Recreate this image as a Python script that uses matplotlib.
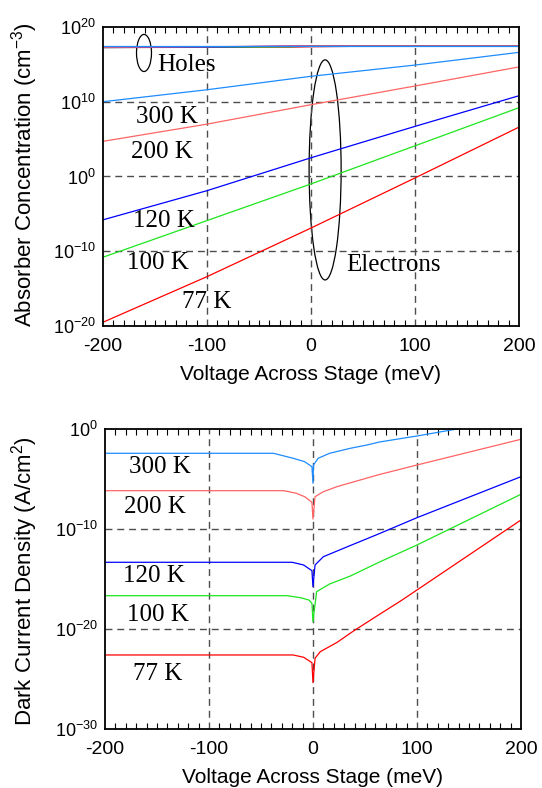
import matplotlib
matplotlib.use("Agg")
from matplotlib import pyplot as plt
from matplotlib.patches import Ellipse
from matplotlib.ticker import MultipleLocator, FixedLocator
import numpy as np

plt.rcParams['font.family'] = ['Liberation Sans', 'DejaVu Sans']
plt.rcParams['mathtext.fontset'] = 'custom'
plt.rcParams['mathtext.rm'] = 'Liberation Sans'
plt.rcParams['mathtext.it'] = 'Liberation Sans:italic'
plt.rcParams['axes.unicode_minus'] = False

# temperatures and colours
temps = ["77 K", "100 K", "120 K", "200 K", "300 K"]
colors = ["#ff0000", "#1ee61e", "#0000ff", "#ff6464", "#1e8cff"]

# ---- top panel: absorber concentration, log10 values ----
v_top = [-200, -100, 0, 100, 200]
log_n77 = [-19.5, -13.4, -6.9, -0.2, 6.6]
log_n100 = [-10.8, -5.9, -1.0, 4.1, 9.2]
log_n120 = [-5.8, -1.9, 2.5, 6.7, 10.8]
log_n200 = [4.7, 7.0, 9.6, 12.1, 14.65]
log_n300 = [10.0, 11.6, 13.4, 14.9, 16.6]

v_holes = [-200, -100, -20, 0, 80, 200]
log_p77 = [17.25, 17.27, 17.3, 17.35, 17.46, 17.46]
log_p100 = [17.25, 17.28, 17.35, 17.46, 17.46, 17.46]
log_p120 = [17.25, 17.3, 17.46, 17.46, 17.46, 17.46]
log_p200 = [17.28, 17.35, 17.46, 17.46, 17.46, 17.46]
log_p300 = [17.46, 17.46, 17.46, 17.46, 17.46, 17.46]

# ---- bottom panel: dark current density, log10 values ----
v_j77 = [-200, -19, -9, -1, 0, 2, 7, 23, 39, 63, 85, 200]
log_j77 = [-22.6, -22.6, -22.83, -23.37, -25.37, -22.93, -22.27, -21.35, -20.2, -18.6, -17.15, -9.1]
v_j100 = [-200, -25, -12, -4, -1, 0, 3.5, 16, 36, 63, 100, 200]
log_j100 = [-16.67, -16.67, -16.87, -17.1, -17.43, -19.27, -16.27, -15.5, -14.7, -13.35, -11.6, -6.53]
v_j120 = [-200, -20, -9, -1, 0, 2, 10, 36, 63, 100, 200]
log_j120 = [-13.33, -13.33, -13.6, -14.17, -15.77, -13.6, -12.77, -11.65, -10.5, -8.87, -4.77]
v_j200 = [-200, -28, -16, -8, -1, 0, 2, 10, 23, 42, 64, 100, 200]
log_j200 = [-6.17, -6.17, -6.43, -6.77, -7.33, -9.0, -6.77, -6.27, -5.77, -5.2, -4.55, -3.6, -1.03]
v_j300 = [-200, -38, -19, -8, -1, 0, 0.5, 5, 16, 36, 52, 64, 100, 133, 200]
log_j300 = [-2.43, -2.43, -2.93, -3.27, -3.77, -5.43, -3.6, -2.93, -2.43, -1.93, -1.6, -1.3, -0.7, -0.1, 1.0]

serif = ['Liberation Serif', 'DejaVu Serif']


def style_axes(ax, ymin, ymax, yticks, ylabels):
    ax.set_xlim(-200, 200)
    ax.set_yscale("log")
    ax.set_ylim(ymin, ymax)
    ax.xaxis.set_major_locator(FixedLocator([-200, -100, 0, 100, 200]))
    ax.xaxis.set_minor_locator(MultipleLocator(10))
    ax.yaxis.set_major_locator(FixedLocator(yticks))
    ax.yaxis.set_minor_locator(FixedLocator([]))
    ax.set_yticklabels(ylabels)
    ax.tick_params(which="both", direction="in", top=True, right=True)
    ax.tick_params(which="minor", length=4, width=0.8)
    ax.tick_params(which="major", length=0)
    ax.tick_params(axis="x", labelsize=14, pad=9)
    ax.tick_params(axis="y", labelsize=13, pad=5)
    ax.grid(True, which="major", color="0.3", linestyle=(0, (5, 3.5)), linewidth=1)
    # no grid lines on the frame itself
    for gl in (ax.xaxis.get_gridlines()[0], ax.xaxis.get_gridlines()[-1],
               ax.yaxis.get_gridlines()[0], ax.yaxis.get_gridlines()[-1]):
        gl.set_visible(False)
    for s in ax.spines.values():
        s.set_linewidth(1.3)
        s.set_zorder(5)
    ax.set_xlabel("Voltage Across Stage (meV)", fontsize=15, labelpad=7)


fig = plt.figure(figsize=(5.42, 7.88), dpi=100)

# top panel
ax1 = fig.add_axes([0.190, 0.5863, 0.7675, 0.3795])
holes = [log_p77, log_p100, log_p120, log_p200, log_p300]
elecs = [log_n77, log_n100, log_n120, log_n200, log_n300]
for p, c in zip(holes, colors):
    ax1.plot(v_holes, 10.0 ** np.array(p), color=c, lw=0.9)
for n, c in zip(elecs, colors):
    ax1.plot(v_top, 10.0 ** np.array(n), color=c, lw=0.9)

style_axes(ax1, 1e-20, 1e20, [1e-20, 1e-10, 1e0, 1e10, 1e20],
           [r"$10^{-20}$", r"$10^{-10}$", r"$10^{0}$", r"$10^{10}$", r"$10^{20}$"])
ax1.set_ylabel(r"Absorber Concentration (cm$^{-3}$)", fontsize=16)
ax1.yaxis.set_label_coords(-0.151, 0.505)

top_lab_x = [-100, -147, -141, -143, -138.5]
top_lab_y = [-16.76, -11.55, -5.94, 3.29, 7.97]
for t, x, y in zip(temps, top_lab_x, top_lab_y):
    ax1.text(x, 10.0 ** y, t, family=serif, fontsize=18, ha="center", va="center")
ax1.text(-148, 10.0 ** 14.9, "Holes", family=serif, fontsize=18, ha="left", va="center")
ax1.text(33.6, 10.0 ** -11.8, "Electrons", family=serif, fontsize=18, ha="left", va="center")
ax1.add_patch(Ellipse((0.0986, 0.913), 0.036, 0.124, transform=ax1.transAxes,
                      fill=False, ec="black", lw=0.9, clip_on=False))
ax1.add_patch(Ellipse((0.534, 0.522), 0.077, 0.736, transform=ax1.transAxes,
                      fill=False, ec="black", lw=0.9, clip_on=False))

# bottom panel
ax2 = fig.add_axes([0.1937, 0.0749, 0.7675, 0.3807])
curves = [(v_j77, log_j77), (v_j100, log_j100), (v_j120, log_j120),
          (v_j200, log_j200), (v_j300, log_j300)]
for (v, j), c in zip(curves, colors):
    ax2.plot(v, 10.0 ** np.array(j), color=c, lw=0.9)

style_axes(ax2, 1e-30, 1e0, [1e-30, 1e-20, 1e-10, 1e0],
           [r"$10^{-30}$", r"$10^{-20}$", r"$10^{-10}$", r"$10^{0}$"])
ax2.set_ylabel(r"Dark Current Density (A/cm$^{2}$)", fontsize=16)
ax2.yaxis.set_label_coords(-0.156, 0.493)

bot_lab_x = [-149, -149, -153, -152, -147]
bot_lab_y = [-24.5, -18.6, -14.7, -7.85, -3.85]
for t, x, y in zip(temps, bot_lab_x, bot_lab_y):
    ax2.text(x, 10.0 ** y, t, family=serif, fontsize=18, ha="center", va="center")

fig.savefig("out.png", dpi=100)
